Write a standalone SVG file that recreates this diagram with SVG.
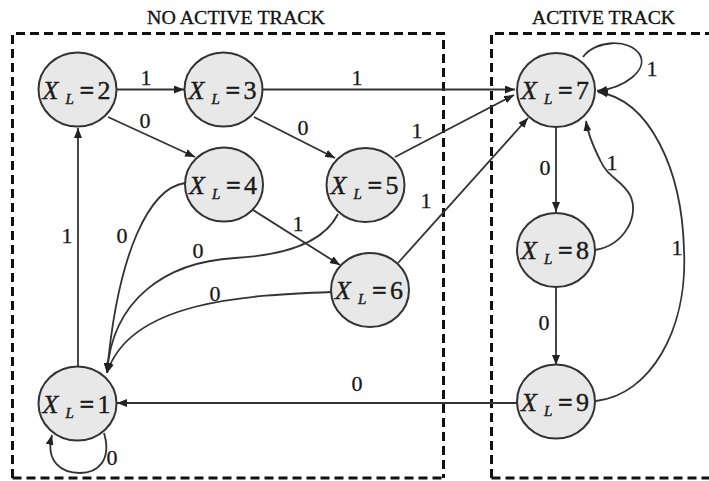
<svg xmlns="http://www.w3.org/2000/svg" width="709" height="481" viewBox="0 0 709 481">
  <style>
    .region { fill: none; stroke: #111; stroke-width: 3; stroke-dasharray: 9 5; }
    .title { font-family: "Liberation Serif", "Times New Roman", Times, serif; font-size: 19px; fill: #111; stroke: #111; stroke-width: 0.3; }
    .state { fill: #e8e8e8; stroke: #333; stroke-width: 2; }
    .name { font-family: "Liberation Serif", "Times New Roman", Times, serif; font-size: 26px; fill: #1a1a1a; stroke: #1a1a1a; stroke-width: 0.4; }
    .name .v { font-style: italic; }
    .name .sub { font-style: italic; font-size: 15px; }
    .name .eq { font-weight: bold; }
    .edge { fill: none; stroke: #333; stroke-width: 1.8; }
    .arr { marker-end: url(#head); }
    .lab { font-family: "Liberation Serif", "Times New Roman", Times, serif; font-size: 22px; fill: #1a1a1a; stroke: #1a1a1a; stroke-width: 0.3; text-anchor: middle; }
  </style>
  <defs>
    <marker id="head" viewBox="0 0 10 8" refX="10" refY="4" markerWidth="10" markerHeight="8" markerUnits="userSpaceOnUse" orient="auto">
      <path d="M0,0 L10,4 L0,8 Z" fill="#222"/>
    </marker>
  </defs>

  <rect width="709" height="481" fill="#fff"/>

  <!-- regions -->
  <g id="regions">
    <path class="region" d="M12.5,478 V33.5 H443.5 V478"/>
    <path class="region" d="M12.5,478 H443.5"/>
    <path class="region" d="M491.5,478 V33.5 H712"/>
    <path class="region" d="M491.5,478 H712"/>
    <text class="title" x="147" y="24" textLength="178" lengthAdjust="spacingAndGlyphs">NO ACTIVE TRACK</text>
    <text class="title" x="532" y="24" textLength="143" lengthAdjust="spacingAndGlyphs">ACTIVE TRACK</text>
  </g>

  <!-- transitions -->
  <g id="connectors">
    <path class="edge arr" d="M117,89.5 H184"/>
    <path class="edge arr" d="M263,89.5 H515"/>
    <path class="edge arr" d="M108,117 L195,157"/>
    <path class="edge arr" d="M254,117 L335,158"/>
    <path class="edge arr" d="M395,157 L514,95"/>
    <path class="edge arr" d="M398,263 L528,118"/>
    <path class="edge arr" d="M253,210 L340,265"/>
    <path class="edge arr" d="M78,366 V128"/>
    <path class="edge arr" d="M185,183 C150,188 118,250 107,373"/>
    <path class="edge arr" d="M338,214 C325,240 290,255 235,258 C165,262 112,300 107,373"/>
    <path class="edge arr" d="M332,292 C250,295 130,300 107,373"/>
    <path class="edge arr" d="M104,433 C112,460 98,473 80,473 C62,473 45,462 52,435"/>
    <path class="edge arr" d="M517,403 H117"/>
    <path class="edge arr" d="M583,57 C595,40 630,38 640,55 C648,70 625,88 597,91"/>
    <path class="edge arr" d="M556,127 V212"/>
    <path class="edge arr" d="M595,250 C625,245 640,215 630,195 C622,180 608,178 600,160 C594,148 588,135 586,121"/>
    <path class="edge arr" d="M556,287 V365"/>
    <path class="edge arr" d="M596,401 C650,395 688,330 684,250 C682,170 650,100 598,92"/>

    <text class="lab" x="146" y="85">1</text>
    <text class="lab" x="357" y="85">1</text>
    <text class="lab" x="145" y="128">0</text>
    <text class="lab" x="303" y="135">0</text>
    <text class="lab" x="417" y="138">1</text>
    <text class="lab" x="426" y="208">1</text>
    <text class="lab" x="298" y="231">1</text>
    <text class="lab" x="122" y="243">0</text>
    <text class="lab" x="198" y="258">0</text>
    <text class="lab" x="215" y="301">0</text>
    <text class="lab" x="67" y="243">1</text>
    <text class="lab" x="112" y="465">0</text>
    <text class="lab" x="357" y="391">0</text>
    <text class="lab" x="652" y="76">1</text>
    <text class="lab" x="545" y="175">0</text>
    <text class="lab" x="612" y="170">1</text>
    <text class="lab" x="544" y="330">0</text>
    <text class="lab" x="677" y="255">1</text>
  </g>

  <!-- states -->
  <g id="s1" transform="translate(77.5,403.5)">
    <ellipse class="state" rx="39" ry="37"/>
    <text class="name"><tspan class="v" x="-35" y="9">X</tspan><tspan class="sub" x="-12" y="14">L</tspan><tspan class="eq" x="2" y="9">=</tspan><tspan x="20" y="9">1</tspan></text>
  </g>
  <g id="s2" transform="translate(77.5,89.5)">
    <ellipse class="state" rx="39" ry="37"/>
    <text class="name"><tspan class="v" x="-35" y="9">X</tspan><tspan class="sub" x="-12" y="14">L</tspan><tspan class="eq" x="2" y="9">=</tspan><tspan x="20" y="9">2</tspan></text>
  </g>
  <g id="s3" transform="translate(223.5,89.5)">
    <ellipse class="state" rx="39" ry="37"/>
    <text class="name"><tspan class="v" x="-35" y="9">X</tspan><tspan class="sub" x="-12" y="14">L</tspan><tspan class="eq" x="2" y="9">=</tspan><tspan x="20" y="9">3</tspan></text>
  </g>
  <g id="s4" transform="translate(224,184.5)">
    <ellipse class="state" rx="39" ry="37"/>
    <text class="name"><tspan class="v" x="-35" y="9">X</tspan><tspan class="sub" x="-12" y="14">L</tspan><tspan class="eq" x="2" y="9">=</tspan><tspan x="20" y="9">4</tspan></text>
  </g>
  <g id="s5" transform="translate(365.5,185)">
    <ellipse class="state" rx="39" ry="37"/>
    <text class="name"><tspan class="v" x="-35" y="9">X</tspan><tspan class="sub" x="-12" y="14">L</tspan><tspan class="eq" x="2" y="9">=</tspan><tspan x="20" y="9">5</tspan></text>
  </g>
  <g id="s6" transform="translate(370,290)">
    <ellipse class="state" rx="39" ry="37"/>
    <text class="name"><tspan class="v" x="-35" y="9">X</tspan><tspan class="sub" x="-12" y="14">L</tspan><tspan class="eq" x="2" y="9">=</tspan><tspan x="20" y="9">6</tspan></text>
  </g>
  <g id="s7" transform="translate(556,90)">
    <ellipse class="state" rx="39" ry="37"/>
    <text class="name"><tspan class="v" x="-35" y="9">X</tspan><tspan class="sub" x="-12" y="14">L</tspan><tspan class="eq" x="2" y="9">=</tspan><tspan x="20" y="9">7</tspan></text>
  </g>
  <g id="s8" transform="translate(556,250)">
    <ellipse class="state" rx="39" ry="37"/>
    <text class="name"><tspan class="v" x="-35" y="9">X</tspan><tspan class="sub" x="-12" y="14">L</tspan><tspan class="eq" x="2" y="9">=</tspan><tspan x="20" y="9">8</tspan></text>
  </g>
  <g id="s9" transform="translate(556,401.5)">
    <ellipse class="state" rx="39" ry="37"/>
    <text class="name"><tspan class="v" x="-35" y="9">X</tspan><tspan class="sub" x="-12" y="14">L</tspan><tspan class="eq" x="2" y="9">=</tspan><tspan x="20" y="9">9</tspan></text>
  </g>
</svg>
